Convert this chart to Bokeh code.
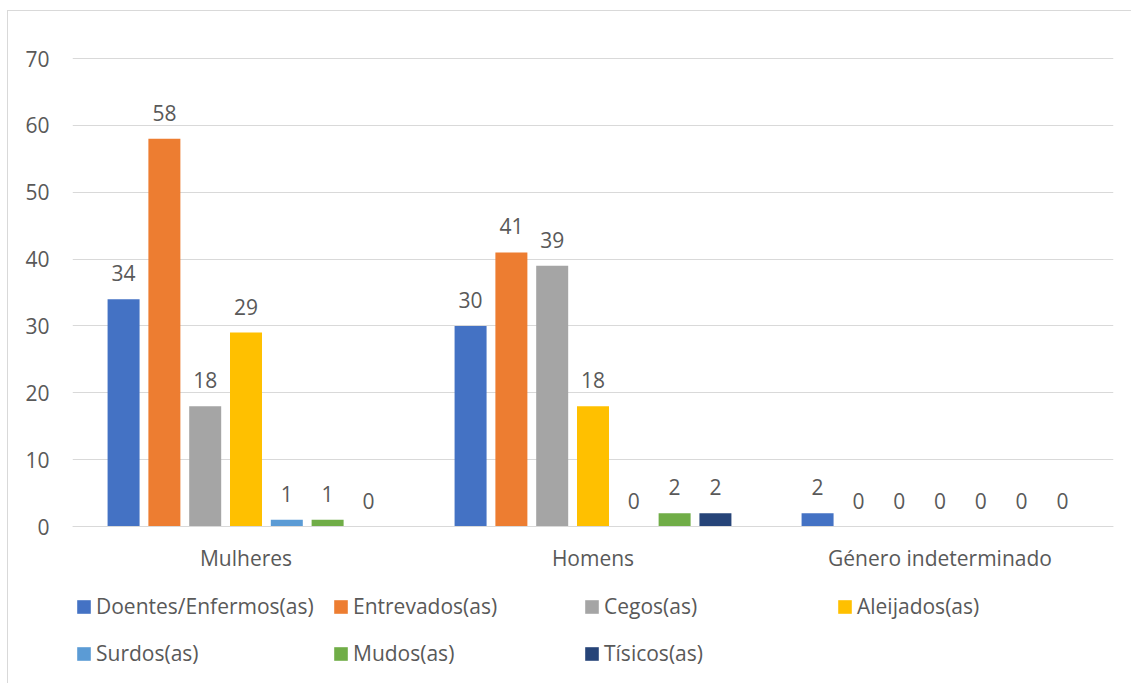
from bokeh.plotting import figure
from bokeh.models import (ColumnDataSource, LabelSet, Legend, LegendItem,
                          FactorRange, Range1d)
from bokeh.core.properties import value
from bokeh.transform import dodge
from bokeh.embed import file_html
from bokeh.resources import INLINE

# Categories along the x axis
categories = ["Mulheres", "Homens", "Género indeterminado"]

# Counts per series, one value per category
doentes = [34, 30, 2]
entrevados = [58, 41, 0]
cegos = [18, 39, 0]
aleijados = [29, 18, 0]
surdos = [1, 0, 0]
mudos = [1, 2, 0]
tisicos = [0, 2, 0]

series_names = ["Doentes/Enfermos(as)", "Entrevados(as)", "Cegos(as)",
                "Aleijados(as)", "Surdos(as)", "Mudos(as)", "Tísicos(as)"]
series_values = [doentes, entrevados, cegos, aleijados, surdos, mudos, tisicos]
series_colors = ["#4472C4", "#ED7D31", "#A5A5A5", "#FFC000",
                 "#5B9BD5", "#70AD47", "#264478"]

y_ticks = [0, 10, 20, 30, 40, 50, 60, 70]

FONT = "Open Sans"
TEXT_COLOR = "#595959"
GRID_COLOR = "#D9D9D9"
FS = "21px"

# Pixel layout: value axis spans 468 px for 0..70; the frame continues
# below zero to hold the category labels and the legend.
px_per_unit = 468 / 70
y_lo = -158 / px_per_unit
y_hi = 70 + 2 / px_per_unit

p = figure(width=1124, height=673, x_range=FactorRange(*categories),
           y_range=Range1d(y_lo, y_hi), output_backend="svg",
           toolbar_location=None,
           min_border_left=64, min_border_right=19, min_border_top=45,
           min_border_bottom=0)
p.outline_line_color = None
p.background_fill_color = "white"
p.border_fill_color = "white"
# light chart border on the left and top edges
p.styles = {"margin-left": "7px", "margin-top": "10px",
            "border-left": "1px solid #D9D9D9",
            "border-top": "1px solid #D9D9D9"}

pitch = 0.1176
bar_w = 0.0922

renderers = []
for i, (name, vals, col) in enumerate(zip(series_names, series_values, series_colors)):
    src = ColumnDataSource(dict(cat=categories, val=vals,
                                lbl=[str(v) for v in vals]))
    off = (i - 3) * pitch
    r = p.vbar(x=dodge("cat", off, range=p.x_range), top="val", width=bar_w,
               source=src, fill_color=col, line_color=None)
    renderers.append(r)
    labels = LabelSet(x=dodge("cat", off, range=p.x_range), y="val", text="lbl",
                      source=src, text_align="center", text_baseline="middle",
                      y_offset=26, text_font=value(FONT), text_font_size=FS,
                      text_color=TEXT_COLOR)
    p.add_layout(labels)

# Axes and grid
p.yaxis.ticker = y_ticks
p.yaxis.axis_line_color = None
p.yaxis.major_tick_line_color = None
p.yaxis.minor_tick_line_color = None
p.yaxis.major_label_standoff = 17
p.yaxis.major_label_text_font = FONT
p.yaxis.major_label_text_font_size = FS
p.yaxis.major_label_text_color = TEXT_COLOR

p.xaxis.fixed_location = 0
p.xaxis.axis_line_color = GRID_COLOR
p.xaxis.major_tick_line_color = None
p.xaxis.minor_tick_line_color = None
p.xaxis.major_label_standoff = 11
p.xaxis.major_label_text_font = FONT
p.xaxis.major_label_text_font_size = FS
p.xaxis.major_label_text_color = TEXT_COLOR

p.xgrid.grid_line_color = None
p.ygrid.grid_line_color = GRID_COLOR
p.ygrid.grid_line_width = 1

# Legend: one entry per slot on a 4-column grid under the categories
col_x = [3, 260, 511, 764]
row_y = [64, 17]
for i, (name, r) in enumerate(zip(series_names, renderers)):
    leg = Legend(items=[LegendItem(label=name, renderers=[r])],
                 location=(col_x[i % 4], row_y[i // 4]),
                 border_line_color=None, background_fill_alpha=0,
                 padding=0, margin=0, spacing=0,
                 glyph_width=17, glyph_height=17, label_standoff=4,
                 label_height=28,
                 label_text_font=FONT, label_text_font_size=FS,
                 label_text_color=TEXT_COLOR)
    p.add_layout(leg)

open("out.html", "w").write(file_html(p, INLINE))
